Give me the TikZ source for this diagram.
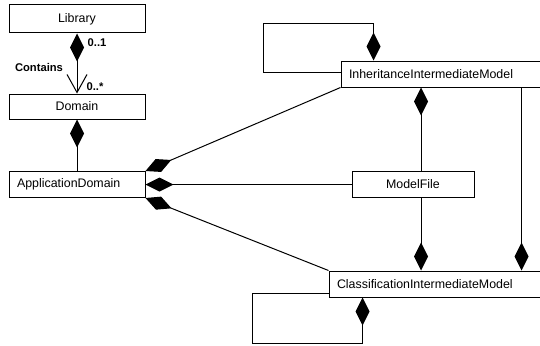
\documentclass[tikz,border=0pt]{standalone}
\usepackage{fontspec}
\setmainfont{Liberation Sans}
\usetikzlibrary{arrows.meta}
\tikzset{
  umlbox/.style={draw,line width=1pt,minimum height=26pt,inner ysep=0pt,inner xsep=8pt,font=\fontsize{12.4}{15}\selectfont},
  role/.style={font=\bfseries\fontsize{11.2}{13}\selectfont},
  whole/.style={line width=1pt,{Diamond[length=28pt,width=14pt]}-},
  part/.style={line width=1pt,-{Diamond[length=28pt,width=14pt]}},
}
\begin{document}
\begin{tikzpicture}[x=1pt,y=-1pt]
\fill[white] (0,0) rectangle (540,345);
\useasboundingbox (0,0) rectangle (540,345);
\clip (0,0) rectangle (540,345);
\node[umlbox,minimum width=136pt,minimum height=28pt] (lib) at (77,19) {Library};
\node[umlbox,minimum width=136pt,minimum height=25pt] (dom) at (77,106.5) {Domain};
\node[umlbox,text width=120pt,align=left] (app) at (77,184.5) {ApplicationDomain};
\node[umlbox,text width=203pt,align=left] (inh) at (450.5,74) {InheritanceIntermediateModel};
\node[umlbox,minimum width=122pt] (mf) at (413,184.5) {ModelFile};
\node[umlbox,text width=215pt,align=left] (cls) at (444.5,284) {ClassificationIntermediateModel};
\draw[line width=1pt,{Diamond[length=28pt,width=14pt]}-{Straight Barb[length=18pt,width=20pt]}] (lib) -- (dom);
\node[role] (one) at (97,43) {0..1};
\node[role] (contains) at (39,67) {Contains};
\node[role] (many) at (95,87) {0..*};
\draw[whole] (dom) -- (app);
\draw[whole] (app.north east) -- (inh.south west);
\draw[whole] (app.east) -- (mf.west);
\draw[whole] (app.south east) -- (cls.north west);
\draw[part] ([yshift=2pt]inh.west) -- (263,72) -- (263,24) -| ([xshift=33pt]inh.north west);
\draw[whole] ([xshift=8pt]mf.north |- inh.south) -- ([xshift=8pt]mf.north);
\draw[part] ([xshift=8pt]mf.south) -- ([xshift=8pt]mf.south |- cls.north);
\draw[part] ([xshift=181pt]inh.south west) -- ([xshift=193pt]cls.north west);
\draw[part] ([yshift=-9pt]cls.west) -- (252,293) -- (252,343) -| ([xshift=34pt]cls.south west);
\end{tikzpicture}
\end{document}
